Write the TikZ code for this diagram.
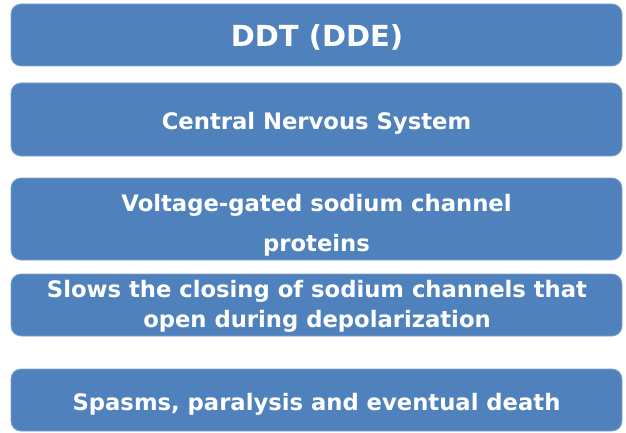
\documentclass[tikz,border=0pt]{standalone}
\usepackage{fontspec}
\setmainfont{DejaVu Sans}
\definecolor{boxblue}{HTML}{4F81BD}
\definecolor{boxedge}{HTML}{7FA2CF}
\tikzset{
  bar/.style={fill=boxblue, draw=boxedge, line width=0.8pt, rounded corners=10pt},
  bartext/.style={text=white, font=\bfseries\fontsize{22.7}{40}\selectfont, align=center, inner sep=0pt},
}
\begin{document}
\begin{tikzpicture}[x=1pt,y=1pt]
\useasboundingbox (0,0) rectangle (626,-433);
\draw[bar] (11,-4) rectangle (622,-66);
\draw[bar] (11,-83) rectangle (622,-156);
\draw[bar] (11,-178) rectangle (622,-260);
\draw[bar] (11,-274) rectangle (622,-336);
\draw[bar] (11,-369) rectangle (622,-431);
\node[bartext, anchor=base, font=\bfseries\fontsize{29}{32}\selectfont] (t1) at (317,-47) {DDT (DDE)};
\node[bartext, anchor=base] (t2) at (316.5,-129.5) {Central Nervous System};
\node[bartext] (t3) at (316.5,-225.5) {Voltage-gated sodium channel\\proteins};
\node[bartext, font=\bfseries\fontsize{22.7}{30}\selectfont] (t4) at (317,-306.5) {Slows the closing of sodium channels that\\open during depolarization};
\node[bartext, anchor=base] (t5) at (316.5,-410) {Spasms, paralysis and eventual death};
\end{tikzpicture}
\end{document}
